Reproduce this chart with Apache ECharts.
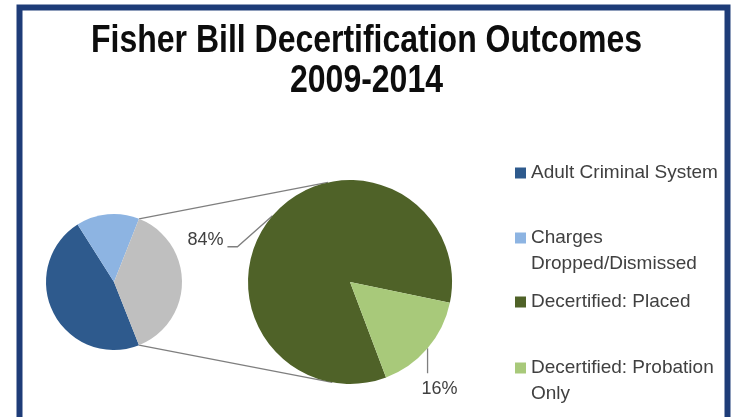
<!DOCTYPE html>
<html>
<head>
<meta charset="utf-8">
<script src="https://cdn.jsdelivr.net/npm/echarts@6/dist/echarts.min.js"></script>
<style>
  html, body { margin: 0; padding: 0; background: #ffffff; }
  #chart { width: 733px; height: 417px; }
</style>
</head>
<body>
<div id="chart"></div>
<script>
// Primary pie: share of all Fisher Bill cases by outcome
const outcomeNames = ['Adult Criminal System', 'Charges Dropped/Dismissed', 'Decertified'];
const outcomeShares = [47, 15, 38];

// Secondary pie: breakdown of the decertified cases
const decertNames = ['Decertified: Placed', 'Decertified: Probation Only'];
const decertShares = [84, 16];

// Legend entries, in display order, and the text shown for each
const legendNames = ['Adult Criminal System', 'Charges Dropped/Dismissed', 'Decertified: Placed', 'Decertified: Probation Only'];
const legendLabels = ['Adult Criminal System', 'Charges\nDropped/Dismissed', 'Decertified: Placed', 'Decertified: Probation\nOnly'];

const titleLines = ['Fisher Bill Decertification Outcomes', '2009-2014'];

const sliceColors = {
  'Adult Criminal System': '#2E5A8D',
  'Charges Dropped/Dismissed': '#8DB4E2',
  'Decertified': '#BFBFBF',
  'Decertified: Placed': '#4F6228',
  'Decertified: Probation Only': '#A8C97A'
};

const chart = echarts.init(document.getElementById('chart'), null, { renderer: 'canvas' });

// keep the aggregated "Decertified" slice centred on the right-hand side
const total = outcomeShares.reduce((a, b) => a + b, 0);
const leftStart = -(outcomeShares[2] / total * 360) / 2;

// legend layout: vertical centre of each marker
const legendCenters = [173, 238, 302, 368];
const legendLine = 26;

const legendText = {
  fontFamily: 'Liberation Sans, Arial, sans-serif',
  fontSize: 19,
  color: '#404040',
  lineHeight: legendLine
};

const leaderStyle = { color: '#7F7F7F', width: 1.3 };

// Title drawn as condensed bold text
const titleFont = 'bold 39px "Liberation Sans", Arial, sans-serif';
const titleY = [41, 81];

const option = {
  animation: false,
  backgroundColor: '#ffffff',
  legend: legendNames.map((name, i) => {
    const wraps = legendLabels[i].indexOf('\n') >= 0;
    return {
      data: [name],
      orient: 'vertical',
      left: 515,
      // wrapped entries get a blank first line so the marker sits beside the first text line
      top: legendCenters[i] - (wraps ? 39 : 13),
      padding: 0,
      itemWidth: 11,
      itemHeight: 11,
      icon: 'rect',
      selectedMode: false,
      formatter: () => (wraps ? '\n' : '') + legendLabels[i],
      textStyle: legendText
    };
  }),
  series: [
    {
      type: 'pie',
      center: [114, 282],
      radius: 68,
      startAngle: leftStart,
      clockwise: true,
      silent: true,
      label: { show: false },
      labelLine: { show: false },
      itemStyle: { borderWidth: 0 },
      emphasis: { disabled: true },
      data: outcomeNames.map((n, i) => ({ name: n, value: outcomeShares[i], itemStyle: { color: sliceColors[n] } }))
    },
    {
      type: 'pie',
      center: [350, 282],
      radius: 102,
      startAngle: -69.3,
      clockwise: true,
      silent: true,
      avoidLabelOverlap: false,
      itemStyle: { borderWidth: 0 },
      emphasis: { disabled: true },
      label: {
        show: true,
        position: 'outside',
        formatter: p => Math.round(p.percent) + '%',
        fontFamily: 'Liberation Sans, Arial, sans-serif',
        fontSize: 18,
        color: '#404040'
      },
      labelLine: { show: true, length: 10, length2: 10, lineStyle: leaderStyle },
      labelLayout: function (p) {
        const e = p.labelLinePoints[0];
        if (p.dataIndex === 0) {
          return {
            x: e[0] - 49, y: e[1] + 24, align: 'right', verticalAlign: 'middle',
            labelLinePoints: [e, [e[0] - 35, e[1] + 31], [e[0] - 45, e[1] + 31]]
          };
        }
        return {
          x: e[0] - 6, y: e[1] + 41, align: 'left', verticalAlign: 'middle',
          labelLinePoints: [e, [e[0], e[1] + 25], [e[0], e[1] + 25]]
        };
      },
      data: decertNames.map((n, i) => ({ name: n, value: decertShares[i], itemStyle: { color: sliceColors[n] } }))
    }
  ],
  graphic: [
    {
      id: 'frame',
      type: 'rect',
      z: 100,
      silent: true,
      shape: { x: 19.5, y: 7.5, width: 708, height: 440 },
      style: { fill: 'none', stroke: '#1E3C78', lineWidth: 6 }
    }
  ].concat(titleLines.map((t, i) => ({
    id: 'title' + i,
    type: 'text',
    silent: true,
    x: 366.5,
    y: titleY[i],
    scaleX: 0.82,
    style: { text: t, font: titleFont, fill: '#0d0d0d', align: 'center', verticalAlign: 'middle' }
  })))
};

chart.setOption(option);

// Connector lines from the edges of the aggregated slice to the secondary pie
(function drawConnectors() {
  const model = chart.getModel();
  const agg = model.getSeriesByIndex(0).getData().getItemLayout(2);
  const sec = model.getSeriesByIndex(1).getData().getItemLayout(0);
  const pt = (l, a, r) => [l.cx + r * Math.cos(a), l.cy + r * Math.sin(a)];
  const p1 = pt(agg, agg.startAngle, agg.r);
  const p2 = pt(agg, agg.endAngle, agg.r);
  const upper = p1[1] < p2[1] ? p1 : p2;
  const lower = p1[1] < p2[1] ? p2 : p1;
  const rad = Math.PI / 180;
  const secTop = pt(sec, -102.5 * rad, sec.r);
  const secBottom = pt(sec, 100 * rad, sec.r);
  const line = (id, a, b) => ({
    id: id, type: 'line', silent: true, z: 1,
    shape: { x1: a[0], y1: a[1], x2: b[0], y2: b[1] },
    style: { stroke: '#7F7F7F', lineWidth: 1.3 }
  });
  chart.setOption({ graphic: [line('connTop', upper, secTop), line('connBottom', lower, secBottom)] });
})();
</script>
</body>
</html>
